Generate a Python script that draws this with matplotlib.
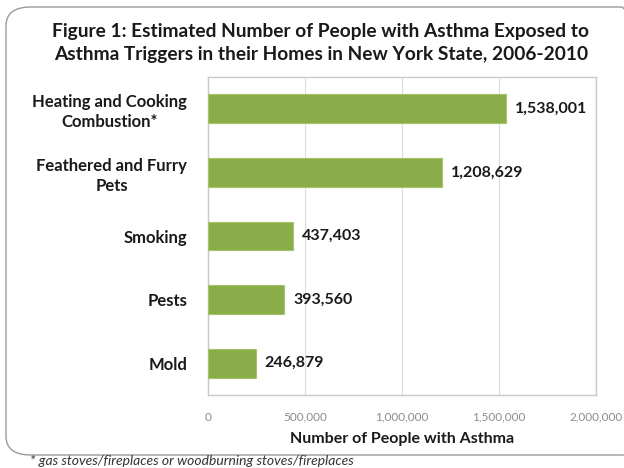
import matplotlib
matplotlib.use('Agg')
import matplotlib.pyplot as plt
from matplotlib.patches import FancyBboxPatch
from matplotlib.ticker import FuncFormatter

categories = ['Heating and Cooking\nCombustion*', 'Feathered and Furry\nPets', 'Smoking', 'Pests', 'Mold']
values = [1538001, 1208629, 437403, 393560, 246879]
xticks = [0, 500000, 1000000, 1500000, 2000000]

plt.rcParams['font.family'] = ['Lato', 'DejaVu Sans']

W, H = 624, 468
fig = plt.figure(figsize=(W / 100, H / 100), dpi=100)

# rounded outer frame
frame = FancyBboxPatch((6 / W, 13 / H), 640 / W, 448 / H,
                       boxstyle='round,pad=0,rounding_size=0.04',
                       transform=fig.transFigure, fill=False,
                       edgecolor='#9a9a9a', linewidth=1.0)
fig.patches.append(frame)

ax = fig.add_axes([208 / W, 1 - 395 / H, 388 / W, 318 / H])
y = range(len(categories))
bars = ax.barh(y, values, height=0.45, color='#8aad4a', edgecolor='#a4c46a', linewidth=0.8, zorder=3)
ax.set_xlim(0, 2000000)
ax.set_ylim(len(categories) - 0.5, -0.5)

ax.set_xticks(xticks)
ax.xaxis.set_major_formatter(FuncFormatter(lambda v, p: f'{int(v):,}'))
ax.tick_params(axis='x', length=0, labelsize=8.5, labelcolor='#8c8c8c', pad=12)
ax.set_yticks(list(y))
ax.set_yticklabels(categories, fontsize=12, fontweight='bold', color='#1a1a1a', linespacing=1.3)
ax.tick_params(axis='y', length=0, pad=15)
for lbl in ax.get_yticklabels():
    lbl.set_horizontalalignment('right')
    lbl.set_multialignment('center')

ax.grid(axis='x', color='#dcdcdc', linewidth=0.8, zorder=0)
for s in ax.spines.values():
    s.set_color('#c8c8c8')
    s.set_linewidth(1.0)

for b, v in zip(bars, values):
    ax.text(v + 45000, b.get_y() + b.get_height() / 2, f'{v:,}',
            va='center', ha='left', fontsize=11.5, fontweight='bold', color='#1a1a1a')

ax.set_xlabel('Number of People with Asthma', fontsize=11.5, fontweight='bold',
              color='#1a1a1a', labelpad=7)

fig.text(321 / W, 1 - 43 / H,
         'Figure 1: Estimated Number of People with Asthma Exposed to\nAsthma Triggers in their Homes in New York State, 2006-2010',
         ha='center', va='center', fontsize=13.8, fontweight='bold', color='#1a1a1a', linespacing=1.4)

fig.text(30 / W, 1 - 461 / H, '* gas stoves/fireplaces or woodburning stoves/fireplaces',
         ha='left', va='center', fontsize=10, style='italic', color='#333333')

fig.savefig('out.png', dpi=100)
